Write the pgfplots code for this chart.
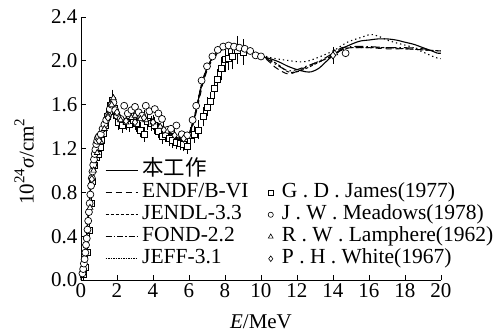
\documentclass[border=0pt]{standalone}
\usepackage{fontspec}
\setmainfont{Liberation Serif}
\newfontfamily\cjk{Noto Sans CJK SC}
\usepackage{pgfplots}
\usepackage{pgfplotstable}
\pgfplotsset{compat=1.18}
\pgfplotsset{
  lineleg/.style={legend image code/.code={\draw[##1] (0pt,0pt) -- (32pt,0pt);}},
  markleg/.style={legend image code/.code={\draw[##1] plot coordinates {(0pt,0pt)}; \path (-3pt,0pt) (7pt,0pt);}},
}
\newcommand{\sups}[1]{\raisebox{0.45em}{\fontsize{15}{17}\selectfont #1}}

\pgfplotstableread{
x y
0 0
0.1 0.08
0.2 0.2
0.3 0.38
0.4 0.58
0.5 0.78
0.6 0.95
0.7 1.08
0.8 1.16
0.9 1.20
1.0 1.24
1.2 1.32
1.4 1.42
1.6 1.54
1.75 1.61
1.85 1.59
2.0 1.51
2.2 1.45
2.5 1.46
3.0 1.47
3.5 1.46
4.0 1.45
4.5 1.40
5.0 1.33
5.5 1.29
5.9 1.30
6.2 1.42
6.5 1.63
6.8 1.84
7.1 1.97
7.4 2.05
7.8 2.11
8.2 2.13
8.6 2.12
9.0 2.10
9.5 2.07
10 2.04
10.5 2.02
11 1.99
11.5 1.95
12 1.92
12.5 1.90
12.8 1.90
13.2 1.93
13.6 1.99
14 2.05
14.5 2.11
15 2.15
15.5 2.18
16 2.19
16.5 2.20
17 2.20
17.5 2.19
18 2.17
18.5 2.15
19 2.12
19.5 2.09
19.8 2.07
20 2.07
}\thiswork

\pgfplotstableread{
x y
0 0
0.1 0.09
0.2 0.21
0.3 0.40
0.4 0.60
0.5 0.80
0.6 0.97
0.7 1.10
0.8 1.17
0.9 1.21
1.0 1.25
1.2 1.33
1.4 1.43
1.6 1.55
1.75 1.62
1.85 1.58
2.0 1.50
2.2 1.44
2.5 1.45
3.0 1.46
3.5 1.45
4.0 1.44
4.5 1.39
5.0 1.32
5.5 1.28
5.9 1.29
6.2 1.40
6.5 1.60
6.8 1.81
7.1 1.95
7.4 2.03
7.8 2.10
8.2 2.12
8.6 2.12
9.0 2.10
9.5 2.08
10 2.05
10.4 2.00
10.8 1.94
11.2 1.90
11.5 1.88
11.8 1.89
12.2 1.92
12.6 1.95
13 1.98
13.5 2.01
14 2.05
14.5 2.10
15 2.12
16 2.12
17 2.11
18 2.11
19 2.10
20 2.09
}\endf

\pgfplotstableread{
x y
0 0
0.2 0.19
0.4 0.57
0.6 0.94
0.8 1.15
1.0 1.23
1.4 1.41
1.75 1.60
2.0 1.49
2.5 1.46
3.0 1.48
4.0 1.46
5.0 1.34
5.5 1.30
5.9 1.31
6.3 1.48
6.7 1.78
7.1 1.96
7.5 2.06
8.0 2.11
9.0 2.10
10 2.05
10.5 2.01
11 1.96
11.5 1.90
12 1.90
12.5 1.93
13 1.97
13.5 2.01
14 2.05
14.5 2.10
15 2.12
16 2.12
17 2.12
18 2.11
19 2.10
20 2.09
}\jendl

\pgfplotstableread{
x y
0 0
0.2 0.20
0.4 0.59
0.6 0.96
0.8 1.16
1.0 1.24
1.4 1.42
1.75 1.61
2.0 1.50
2.5 1.45
3.0 1.47
4.0 1.45
5.0 1.33
5.5 1.29
5.9 1.30
6.3 1.49
6.7 1.79
7.1 1.97
7.5 2.06
8.0 2.11
9.0 2.10
10 2.05
10.5 2.00
11 1.95
11.5 1.91
12 1.92
12.5 1.95
13 1.98
13.5 2.02
14 2.07
14.5 2.12
15 2.13
16 2.13
17 2.12
18 2.12
19 2.11
19.6 2.09
}\fond

\pgfplotstableread{
x y
0 0
0.2 0.20
0.4 0.58
0.6 0.95
0.8 1.16
1.0 1.24
1.4 1.42
1.75 1.61
2.0 1.50
2.5 1.46
3.0 1.47
4.0 1.45
5.0 1.33
5.5 1.29
5.9 1.30
6.3 1.49
6.7 1.79
7.1 1.97
7.5 2.06
8.0 2.11
9.0 2.10
9.9 2.06
10.5 2.03
11.2 2.01
12.3 1.99
13.0 2.02
14.0 2.09
14.8 2.17
15.5 2.21
16.1 2.24
16.6 2.22
17.0 2.19
17.6 2.16
18.3 2.13
19.0 2.08
19.7 2.03
20 2.02
}\jeff

\pgfplotstableread{
x y e
0.15 0.05 0.02
0.25 0.12 0.02
0.35 0.25 0.02
0.45 0.45 0.03
0.55 0.70 0.03
0.65 0.90 0.03
0.75 1.05 0.03
0.85 1.12 0.03
0.95 1.15 0.03
1.05 1.21 0.03
1.15 1.27 0.03
1.25 1.34 0.04
1.35 1.41 0.04
1.45 1.49 0.04
1.55 1.54 0.04
1.65 1.59 0.05
1.75 1.64 0.07
1.85 1.57 0.05
1.95 1.50 0.04
2.1 1.44 0.04
2.3 1.41 0.04
2.5 1.45 0.05
2.7 1.42 0.04
2.9 1.46 0.04
3.1 1.43 0.05
3.3 1.37 0.04
3.5 1.33 0.04
3.7 1.45 0.05
3.9 1.43 0.04
4.1 1.41 0.05
4.3 1.36 0.04
4.5 1.31 0.04
4.7 1.33 0.04
4.9 1.29 0.04
5.1 1.27 0.04
5.3 1.26 0.04
5.5 1.25 0.04
5.7 1.24 0.04
5.9 1.22 0.04
6.1 1.32 0.05
6.3 1.33 0.05
6.5 1.37 0.06
6.8 1.49 0.06
7.0 1.58 0.06
7.2 1.63 0.06
7.4 1.75 0.07
7.6 1.83 0.07
7.8 1.93 0.08
8.0 2.01 0.08
8.2 2.02 0.08
8.4 2.04 0.09
8.7 2.10 0.10
9.0 2.08 0.09
}\james

\pgfplotstableread{
x y
0.08 0.06
0.12 0.10
0.16 0.15
0.20 0.19
0.24 0.25
0.28 0.32
0.32 0.38
0.36 0.46
0.40 0.54
0.44 0.62
0.48 0.70
0.52 0.78
0.56 0.86
0.60 0.93
0.64 0.99
0.68 1.05
0.72 1.10
0.76 1.15
0.80 1.19
0.85 1.24
0.90 1.27
0.95 1.30
1.0 1.31
1.1 1.33
1.2 1.38
1.3 1.42
1.4 1.46
1.5 1.50
1.6 1.56
1.7 1.60
1.8 1.62
1.9 1.55
2.0 1.50
2.2 1.47
2.4 1.59
2.6 1.52
2.8 1.55
3.0 1.58
3.2 1.53
3.4 1.50
3.6 1.59
3.8 1.54
4.1 1.56
4.3 1.52
4.5 1.47
4.8 1.37
5.0 1.38
5.3 1.41
5.6 1.33
5.9 1.32
6.2 1.46
6.4 1.59
6.7 1.82
7.0 1.95
7.3 2.04
7.6 2.10
7.9 2.13
8.2 2.14
8.5 2.13
8.8 2.12
9.1 2.11
9.4 2.09
9.7 2.05
10.0 2.04
14.7 2.07
}\meadows

\pgfplotstableread{
x y
0.5 0.66
0.7 1.00
0.9 1.16
1.1 1.26
1.3 1.38
1.5 1.50
1.7 1.60
1.8 1.66
2.0 1.52
2.2 1.46
2.5 1.44
2.8 1.48
3.0 1.50
3.3 1.47
3.6 1.46
4.0 1.44
4.4 1.40
14.1 2.07
}\lamphere

\pgfplotstableread{
x y e
0.6 0.92 0.03
1.0 1.27 0.03
1.5 1.48 0.04
2.0 1.53 0.04
2.5 1.45 0.04
3.0 1.44 0.04
3.5 1.48 0.04
4.0 1.44 0.04
4.6 1.37 0.04
5.2 1.32 0.04
5.7 1.29 0.04
14.0 2.05 0.05
}\white

\begin{document}
\begin{tikzpicture}
\begin{axis}[
  scale only axis,
  width=360pt, height=263pt,
  at={(0pt,0pt)}, anchor=south west,
  xmin=0, xmax=20, ymin=0, ymax=2.4,
  axis lines=left,
  axis line style={-, line width=0.8pt},
  tick align=inside,
  major tick length=5pt,
  tick style={line width=0.8pt, black},
  xtick={0,2,...,20},
  ytick={0,0.4,...,2.4},
  yticklabel style={/pgf/number format/.cd, fixed, fixed zerofill, precision=1},
  /pgf/number format/assume math mode=true,
  font=\fontsize{21}{25}\selectfont,
  ticklabel style={font=\fontsize{21}{25}\selectfont},
  xlabel={\textit{E}/MeV},
  ylabel={10\sups{24}\textit{σ}/cm\sups{2}},
  xlabel style={at={(axis description cs:0.5,-0.16)}, anchor=center},
  ylabel style={at={(axis description cs:-0.158,0.45)}, anchor=center},
  legend columns=2,
  legend cell align=left,
  legend style={draw=none, fill=none, at={(axis cs:1.33,1.09)}, anchor=north west,
    inner sep=0pt, row sep=2pt,
    nodes={inner xsep=2pt, inner ysep=0pt, text height=15pt, text depth=5pt},
    font=\fontsize{21.5}{25}\selectfont,
    /tikz/every odd column/.append style={column sep=2pt},
    /tikz/every even column/.append style={column sep=17pt}},
  every axis plot/.append style={black},
]
% evaluated curves
\addplot[forget plot, line width=1.1pt, smooth] table {\thiswork};
\addplot[forget plot, line width=1pt, smooth, dash pattern=on 6pt off 4pt] table {\endf};
\addplot[forget plot, line width=1pt, smooth, dash pattern=on 3pt off 2pt] table {\jendl};
\addplot[forget plot, line width=1pt, smooth, dash pattern=on 9pt off 3pt on 1.5pt off 3pt] table {\fond};
\addplot[forget plot, line width=1.1pt, smooth, dash pattern=on 1.3pt off 3pt] table {\jeff};
% experimental data
\addplot[forget plot, only marks, mark=square*, mark size=3pt, mark options={fill=white, line width=0.7pt},
  error bars/.cd, y dir=both, y explicit, error bar style={line width=0.7pt}, error mark options={mark size=3pt, line width=0.7pt}]
  table[y error=e] {\james};
\addplot[forget plot, only marks, mark=*, mark size=3.5pt, mark options={fill=white, line width=0.7pt}] table {\meadows};
\addplot[forget plot, only marks, mark=triangle*, mark size=3.4pt, mark options={fill=white, line width=0.7pt}] table {\lamphere};
\addplot[forget plot, only marks, mark=diamond*, mark size=3.6pt, mark options={fill=white, line width=0.7pt},
  error bars/.cd, y dir=both, y explicit, error bar style={line width=0.7pt}, error mark options={mark size=3pt, line width=0.7pt}]
  table[y error=e] {\white};
% legend
\addlegendimage{line width=1.1pt, lineleg}
\addlegendentry{{\cjk 本工作}}
\addlegendimage{empty legend}
\addlegendentry{}
\addlegendimage{line width=1pt, dash pattern=on 6pt off 4pt, lineleg}
\addlegendentry{ENDF/B-VI}
\addlegendimage{only marks, mark=square*, mark size=2.4pt, mark options={fill=white, line width=0.6pt}, markleg}
\addlegendentry{G . D . James(1977)}
\addlegendimage{line width=1pt, dash pattern=on 3pt off 2pt, lineleg}
\addlegendentry{JENDL-3.3}
\addlegendimage{only marks, mark=*, mark size=2.6pt, mark options={fill=white, line width=0.6pt}, markleg}
\addlegendentry{J . W . Meadows(1978)}
\addlegendimage{line width=1pt, dash pattern=on 6pt off 2pt on 1.5pt off 2pt, lineleg}
\addlegendentry{FOND-2.2}
\addlegendimage{only marks, mark=triangle*, mark size=2.8pt, mark options={fill=white, line width=0.6pt}, markleg}
\addlegendentry{R . W . Lamphere(1962)}
\addlegendimage{line width=1pt, dash pattern=on 1.5pt off 1pt, lineleg}
\addlegendentry{JEFF-3.1}
\addlegendimage{only marks, mark=diamond*, mark size=2.8pt, mark options={fill=white, line width=0.6pt}, markleg}
\addlegendentry{P . H . White(1967)}
\end{axis}
\path (-81pt,-55pt) rectangle (415pt,280pt);
\end{tikzpicture}
\end{document}
